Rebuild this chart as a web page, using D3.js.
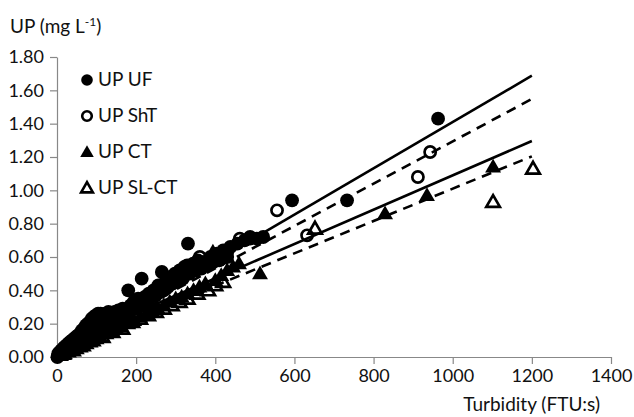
<!DOCTYPE html>
<html>
<head>
<meta charset="utf-8">
<script src="https://cdn.jsdelivr.net/npm/d3@7"></script>
<style>
    body { margin: 0; background: #fff; }
    text { font-family: Lato, "Open Sans", sans-serif; fill: #111; }
    .axis path, .axis line { stroke: #888; stroke-width: 1.2; }
    .axis text { font-size: 18px; fill: #111; }
</style>
</head>
<body>
<div id="chart"></div>
<script>
// ---- size of the chart
const w = 634;
const h = 417;

//  ----   plot area   ------
const pLeft = 57;
const pRight = 611;
const pTop = 57;
const pBottom = 357;

// ---- data, [turbidity, UP]
const upUF = [
    [1, 0.0], [3, 0.02], [5, 0.01], [7, 0.03], [9, 0.02], [11, 0.04], [13, 0.03], [15, 0.05],
    [17, 0.03], [19, 0.06], [21, 0.04], [24, 0.07], [26, 0.05], [28, 0.08], [31, 0.06], [33, 0.09],
    [36, 0.07], [38, 0.1], [41, 0.08], [43, 0.11], [46, 0.09], [48, 0.12], [51, 0.1], [53, 0.13],
    [56, 0.11], [58, 0.14], [60, 0.1], [61, 0.12], [63, 0.16], [65, 0.15], [66, 0.13], [68, 0.17],
    [70, 0.12], [71, 0.14], [73, 0.19], [75, 0.17], [76, 0.15], [78, 0.2], [80, 0.14], [81, 0.17],
    [83, 0.21], [85, 0.2], [86, 0.18], [88, 0.23], [90, 0.16], [91, 0.19], [93, 0.24], [95, 0.22],
    [96, 0.2], [98, 0.25], [100, 0.18], [101, 0.21], [104, 0.26], [105, 0.23], [107, 0.22], [110, 0.26],
    [110, 0.17], [113, 0.2], [115, 0.22], [116, 0.25], [119, 0.23], [120, 0.19], [122, 0.26], [125, 0.25],
    [126, 0.22], [130, 0.27], [130, 0.2], [134, 0.24], [135, 0.21], [138, 0.26], [140, 0.25], [142, 0.22],
    [145, 0.2], [146, 0.27], [150, 0.25], [150, 0.22], [155, 0.28], [158, 0.23], [160, 0.26], [165, 0.24],
    [166, 0.29], [172, 0.27], [175, 0.25], [180, 0.4], [185, 0.28], [186, 0.31], [194, 0.33], [195, 0.29],
    [202, 0.32], [205, 0.35], [214, 0.47], [215, 0.31], [222, 0.36], [228, 0.33], [232, 0.38], [238, 0.36],
    [244, 0.4], [250, 0.37], [256, 0.43], [262, 0.39], [265, 0.51], [274, 0.45], [280, 0.42], [286, 0.48],
    [292, 0.44], [298, 0.5], [305, 0.46], [310, 0.52], [318, 0.47], [322, 0.54], [331, 0.68], [335, 0.5],
    [344, 0.56], [350, 0.52], [356, 0.58], [365, 0.53], [372, 0.57], [380, 0.55], [388, 0.6], [395, 0.57],
    [404, 0.62], [410, 0.58], [420, 0.64], [430, 0.6], [438, 0.66], [456, 0.68], [474, 0.7], [488, 0.71],
    [505, 0.71], [521, 0.72], [594, 0.94], [733, 0.94], [963, 1.43]
];
const upShT = [
    [20, 0.03], [45, 0.07], [70, 0.11], [95, 0.15], [120, 0.18], [150, 0.22], [175, 0.26], [205, 0.3],
    [240, 0.35], [270, 0.4], [300, 0.45], [329, 0.55], [350, 0.52], [361, 0.6], [400, 0.58], [430, 0.63],
    [462, 0.71], [488, 0.72], [556, 0.88], [632, 0.73], [912, 1.08], [943, 1.23]
];
const upCT = [
    [10, 0.01], [20, 0.02], [30, 0.03], [40, 0.04], [50, 0.05], [60, 0.06], [75, 0.08], [85, 0.09],
    [100, 0.11], [110, 0.12], [125, 0.14], [135, 0.15], [150, 0.17], [160, 0.18], [180, 0.2], [195, 0.22],
    [210, 0.24], [225, 0.26], [240, 0.28], [255, 0.29], [270, 0.31], [285, 0.33], [300, 0.35], [315, 0.36],
    [330, 0.38], [345, 0.4], [360, 0.42], [375, 0.44], [394, 0.63], [400, 0.46], [415, 0.49], [430, 0.52],
    [445, 0.54], [460, 0.56], [513, 0.5], [829, 0.86], [935, 0.97], [1102, 1.14]
];
const upSLCT = [
    [15, 0.02], [40, 0.04], [65, 0.07], [90, 0.1], [115, 0.12], [140, 0.15], [165, 0.17], [190, 0.21],
    [210, 0.23], [230, 0.25], [250, 0.27], [270, 0.29], [290, 0.31], [310, 0.33], [330, 0.35], [355, 0.38],
    [382, 0.4], [400, 0.43], [420, 0.45], [652, 0.77], [1102, 0.93], [1203, 1.13]
];

// trendlines: [slope, intercept], drawn from 0 to 1200
const trendUF = [0.00139, 0.02];
const trendShT = [0.00127, 0.024];
const trendCT = [0.00103, 0.06];
const trendSLCT = [0.00097, 0.04];
const trendRange = [0, 1200];

const xTicks = [0, 200, 400, 600, 800, 1000, 1200, 1400];
const yTicks = [0, 0.2, 0.4, 0.6, 0.8, 1.0, 1.2, 1.4, 1.6, 1.8];
const legendNames = ["UP UF", "UP ShT", "UP CT", "UP SL-CT"];

// SCALES
const xScale = d3.scaleLinear().domain([0, 1400]).range([pLeft, pRight]);
const yScale = d3.scaleLinear().domain([0, 1.8]).range([pBottom, pTop]);

const svg = d3
    .select("#chart")
    .append("svg")
    .attr("width", w)
    .attr("height", h);

// AXES
const xAxis = d3.axisBottom(xScale).tickValues(xTicks).tickSize(7).tickSizeOuter(0)
    .tickPadding(5).tickFormat(d3.format("d"));
const yAxis = d3.axisLeft(yScale).tickValues(yTicks).tickSize(7).tickSizeOuter(0)
    .tickPadding(6).tickFormat(d3.format(".2f"));

svg.append("g")
    .attr("class", "axis")
    .attr("transform", `translate(0, ${pBottom})`)
    .call(xAxis);

svg.append("g")
    .attr("class", "axis")
    .attr("transform", `translate(${pLeft}, 0)`)
    .call(yAxis);

// Y-LABEL
const yLab = svg.append("text").attr("x", 10).attr("y", 33).style("font-size", "19px");
yLab.append("tspan").text("UP (mg L");
yLab.append("tspan").attr("dy", -7).style("font-size", "12px").text("-1");
yLab.append("tspan").attr("dy", 7).text(")");

// X-LABEL
svg.append("text")
    .attr("x", 600)
    .attr("y", 411)
    .attr("text-anchor", "end")
    .style("font-size", "19px")
    .text("Turbidity (FTU:s)");

// MARKERS
const tri = d3.symbol().type(d3.symbolTriangle);

const drawCircles = (data, filled) => {
    svg.append("g")
        .selectAll("circle")
        .data(data)
        .enter()
        .append("circle")
        .attr("cx", (d) => xScale(d[0]))
        .attr("cy", (d) => yScale(d[1]))
        .attr("r", filled ? 6.9 : 5.6)
        .attr("fill", filled ? "#000" : "none")
        .attr("stroke", "#000")
        .attr("stroke-width", filled ? 0 : 2.7);
};

const drawTriangles = (data, filled) => {
    svg.append("g")
        .selectAll("path")
        .data(data)
        .enter()
        .append("path")
        .attr("d", tri.size(filled ? 110 : 80))
        .attr("transform", (d) => `translate(${xScale(d[0])}, ${yScale(d[1]) + 1})`)
        .attr("fill", filled ? "#000" : "none")
        .attr("stroke", "#000")
        .attr("stroke-width", filled ? 0 : 2.7)
        .attr("stroke-linejoin", "miter");
};

drawCircles(upUF, true);
drawCircles(upShT, false);
drawTriangles(upCT, true);
drawTriangles(upSLCT, false);

// TRENDLINES
const trends = [
    { p: trendUF, dash: null },
    { p: trendShT, dash: "10,7" },
    { p: trendCT, dash: null },
    { p: trendSLCT, dash: "10,7" }
];
const line = d3
    .line()
    .x((d) => xScale(d[0]))
    .y((d) => yScale(d[1]));

trends.forEach((t) => {
    svg.append("path")
        .attr("d", line(trendRange.map((x) => [x, t.p[0] * x + t.p[1]])))
        .attr("fill", "none")
        .attr("stroke", "#000")
        .attr("stroke-width", 2.6)
        .attr("stroke-dasharray", t.dash);
});

// LEGEND
const legend = svg
    .append("g")
    .selectAll("g")
    .data(legendNames)
    .enter()
    .append("g")
    .attr("transform", (d, i) => `translate(87, ${80 + i * 36})`);

legend.each(function (d, i) {
    const g = d3.select(this);
    if (i < 2) {
        g.append("circle")
            .attr("r", i === 0 ? 5.8 : 4.8)
            .attr("fill", i === 0 ? "#000" : "none")
            .attr("stroke", "#000")
            .attr("stroke-width", i === 0 ? 0 : 2.6);
    } else {
        g.append("path")
            .attr("d", tri.size(i === 2 ? 80 : 60))
            .attr("transform", "translate(0, 1)")
            .attr("fill", i === 2 ? "#000" : "none")
            .attr("stroke", "#000")
            .attr("stroke-width", i === 2 ? 0 : 2.6);
    }
    g.append("text")
        .attr("x", 11)
        .attr("y", 6)
        .style("font-size", "19px")
        .text(d);
});
</script>
</body>
</html>
